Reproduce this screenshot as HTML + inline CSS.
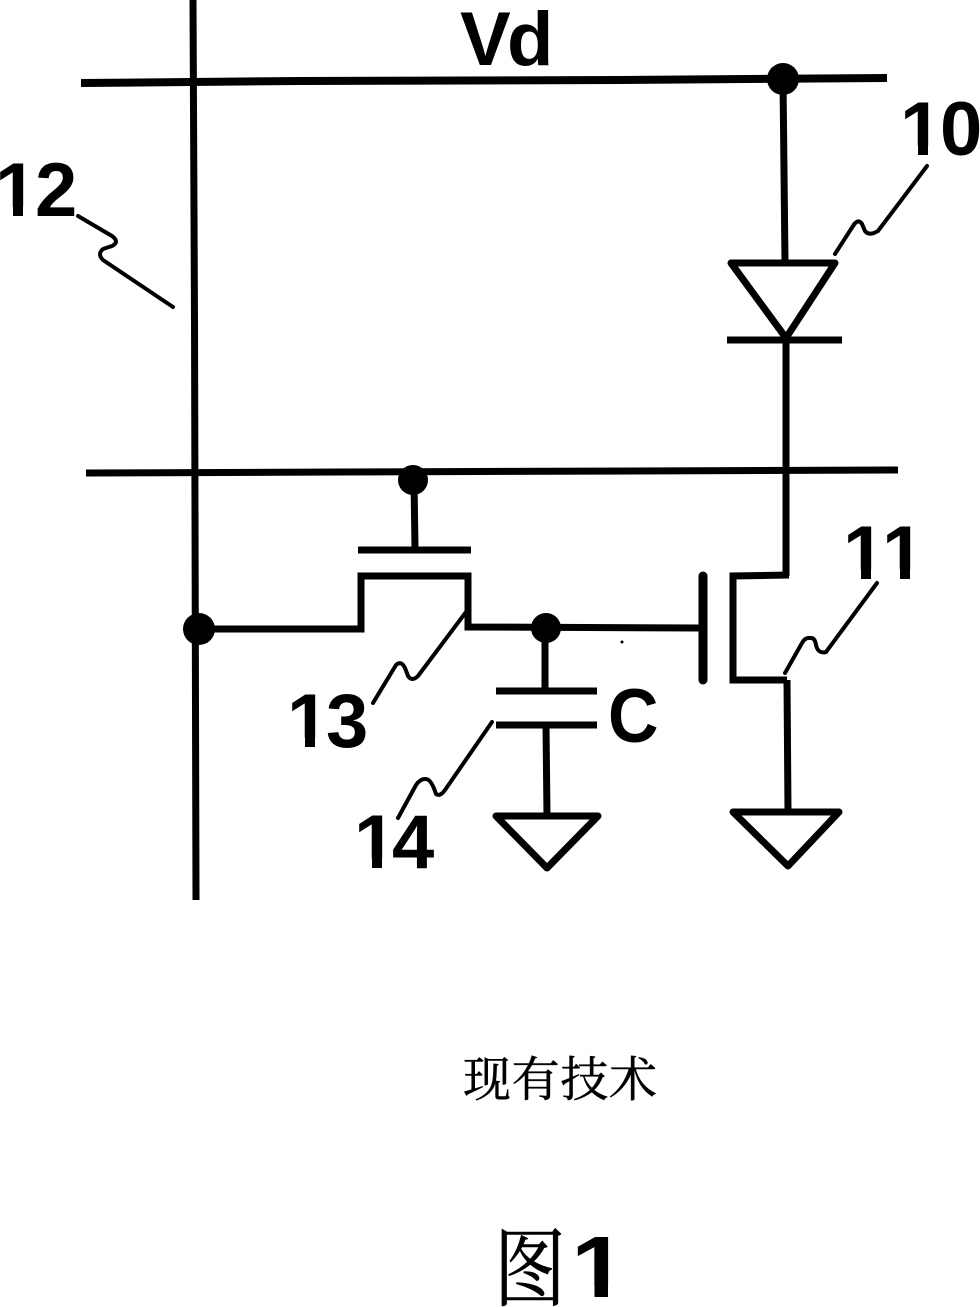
<!DOCTYPE html>
<html>
<head>
<meta charset="utf-8">
<style>
html,body{margin:0;padding:0;background:#fff;width:980px;height:1307px;overflow:hidden}
svg{display:block}
text{fill:#000}
.l{font-family:"Liberation Sans",sans-serif;font-weight:700;font-size:76px}
.c{font-family:"Liberation Serif","Noto Serif CJK SC","Noto Sans CJK SC",serif;stroke:#000;stroke-width:.5}
.m{fill:#fff}
</style>
</head>
<body>
<svg width="980" height="1307" viewBox="0 0 980 1307" xmlns="http://www.w3.org/2000/svg">
<!-- labels -->
<text class="l" x="460" y="65">V</text>
<text class="l" x="507" y="65">d</text>

<text class="l" x="900" y="155">1</text>
<rect class="m" x="903" y="145.500" width="15" height="12"/><rect class="m" x="928" y="145.500" width="14" height="12"/>
<text class="l" x="940" y="155">0</text>

<text class="l" x="-5" y="216">1</text>
<rect class="m" x="-2" y="206.500" width="15" height="12"/><rect class="m" x="23" y="206.500" width="14" height="12"/>
<text class="l" x="35" y="216">2</text>

<text class="l" x="843" y="579">1</text>
<rect class="m" x="846" y="569.500" width="15" height="12"/><rect class="m" x="871" y="569.500" width="14" height="12"/>
<text class="l" x="882" y="579">1</text>
<rect class="m" x="885" y="569.500" width="15" height="12"/><rect class="m" x="910" y="569.500" width="14" height="12"/>

<text class="l" x="287" y="747">1</text>
<rect class="m" x="290" y="737.500" width="15" height="12"/><rect class="m" x="315" y="737.500" width="14" height="12"/>
<text class="l" x="326" y="747">3</text>

<text class="l" x="354" y="868">1</text>
<rect class="m" x="357" y="858.500" width="15" height="12"/><rect class="m" x="382" y="858.500" width="14" height="12"/>
<text class="l" x="392" y="868">4</text>

<text class="l" transform="translate(608,742) scale(.92,1)">C</text>

<text class="c" x="463" y="1096" textLength="194" lengthAdjust="spacing" style="font-size:48px">现有技术</text>
<text class="c" transform="translate(494,1299) scale(1,1.19)" style="font-size:72px">图</text>
<text class="l" transform="translate(571,1297) scale(1.15,1)" style="font-size:87px">1</text>
<rect class="m" x="575" y="1286" width="19.500" height="14"/><rect class="m" x="608" y="1286" width="20" height="14"/>

<g fill="none" stroke="#000" stroke-width="7" stroke-linejoin="miter">
<!-- main lines -->
<path d="M193 0 L194.500 320 L196 900"/>
<path d="M81 83 L300 81 L620 80 L887 78" stroke-width="8"/>
<path d="M86 473 L340 472 L898 470"/>
<!-- Vd drop to diode -->
<path d="M783 80 L785 262"/>
<!-- diode -->
<path d="M731 263 L835 263 L786 338 Z" stroke-linejoin="round"/>
<path d="M727 340 L842 340"/>
<path d="M786 340 L786 576"/>
<!-- T11 -->
<path d="M789 575 L733 576 L733 680 L787 680"/>
<path d="M703 576 L703 680" stroke-width="9" stroke-linecap="round"/>
<path d="M787 680 L788 812"/>
<!-- ground right -->
<path d="M733 812 L839 812 L788 866 Z" stroke-linejoin="round"/>
<!-- T13 gate -->
<path d="M414 480 L415 549"/>
<path d="M358 550 L471 550"/>
<path d="M200 629 L361 629 L361 576 L468 576 L468 627 L700 628"/>
<!-- capacitor -->
<path d="M545 628 L545 691"/>
<path d="M496 691 L597 691"/>
<path d="M496 725 L597 725"/>
<path d="M546 725 L547 816"/>
<!-- ground left -->
<path d="M496 816 L598 816 L547 868 Z" stroke-linejoin="round"/>
</g>
<!-- dots -->
<g fill="#000">
<circle cx="783" cy="79" r="16"/>
<circle cx="413" cy="480" r="15"/>
<circle cx="199" cy="629" r="16"/>
<circle cx="546" cy="628" r="15"/>
<circle cx="622" cy="642" r="1.500"/>
</g>
<!-- leader squiggles -->
<g fill="none" stroke="#000" stroke-width="4" stroke-linejoin="round" stroke-linecap="round">
<path d="M78 216 L112 236 Q120 242 112 246 L103 249 Q97 254 103 260 L173 307"/>
<path d="M835 254 L853 226 Q858 218 862 224 L865 231 Q868 235 874 233 L878 231 L927 166"/>
<path d="M785 673 L802 643 Q805 637 811 638 Q815 638 816 645 Q818 654 826 652 L877 583"/>
<path d="M466 612 L418 676 Q412 682 408 676 L405 668 Q401 660 396 665 L373 703"/>
<path d="M492 722 L445 790 Q440 797 436 794 Q431 778 425 779 Q420 779 416 785 L398 818"/>
</g>
</svg>
</body>
</html>
